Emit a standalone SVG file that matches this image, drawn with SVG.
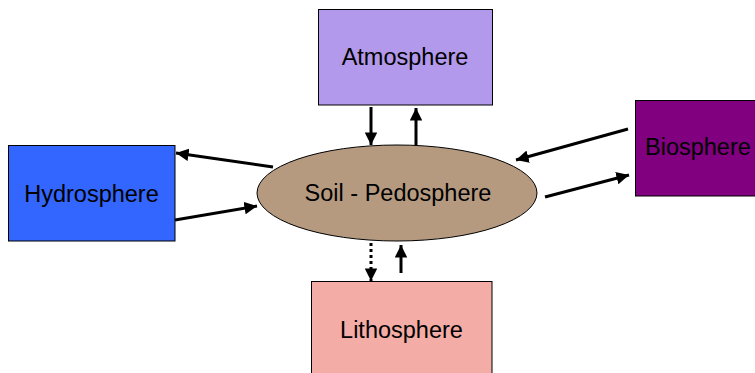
<svg xmlns="http://www.w3.org/2000/svg" width="755" height="373" viewBox="0 0 755 373">
<style>
.box{stroke:#000;stroke-width:1}
.lbl{font-family:"Liberation Sans",Arial,sans-serif;font-size:23.5px;fill:#000;text-anchor:middle}
.c{stroke:#000;stroke-width:3;fill:none;marker-end:url(#ah)}
.d{stroke-dasharray:3,3}
</style>
<defs>
<marker id="ah" viewBox="0 0 10 10" refX="10" refY="5" markerWidth="4.2" markerHeight="4.2" orient="auto" markerUnits="strokeWidth">
<path d="M0,0 L10,5 L0,10 Z" fill="#000"/>
</marker>
</defs>
<rect width="755" height="373" fill="#fff"/>
<g id="atmosphere"><rect class="box" x="318.5" y="9.5" width="174" height="95.5" fill="#B399EB"/><text class="lbl" x="405" y="65">Atmosphere</text></g>
<g id="hydrosphere"><rect class="box" x="8.5" y="145.5" width="166.5" height="95.5" fill="#3366FF"/><text class="lbl" x="91.5" y="202">Hydrosphere</text></g>
<g id="biosphere"><rect class="box" x="635.5" y="100.5" width="130" height="95.5" fill="#800080"/><text class="lbl" x="645" y="155" style="text-anchor:start">Biosphere</text></g>
<g id="lithosphere"><rect class="box" x="311.5" y="281.5" width="180.5" height="100" fill="#F4ACA6"/><text class="lbl" x="401.5" y="338">Lithosphere</text></g>
<g id="pedosphere"><ellipse class="box" cx="397" cy="193" rx="140" ry="48" fill="#B59A80"/><text class="lbl" x="398" y="201">Soil - Pedosphere</text></g>
<g id="connectors">
<line class="c" x1="371" y1="107" x2="371" y2="145"/>
<line class="c" x1="416" y1="145" x2="416" y2="108"/>
<line class="c" x1="273" y1="167" x2="176" y2="153"/>
<line class="c" x1="175" y1="220" x2="257" y2="206"/>
<line class="c" x1="628" y1="129" x2="516" y2="160"/>
<line class="c" x1="545" y1="197" x2="629" y2="175"/>
<line class="c d" x1="371" y1="243" x2="371" y2="281"/>
<line class="c" x1="401" y1="273" x2="401" y2="245"/>
</g>
</svg>
